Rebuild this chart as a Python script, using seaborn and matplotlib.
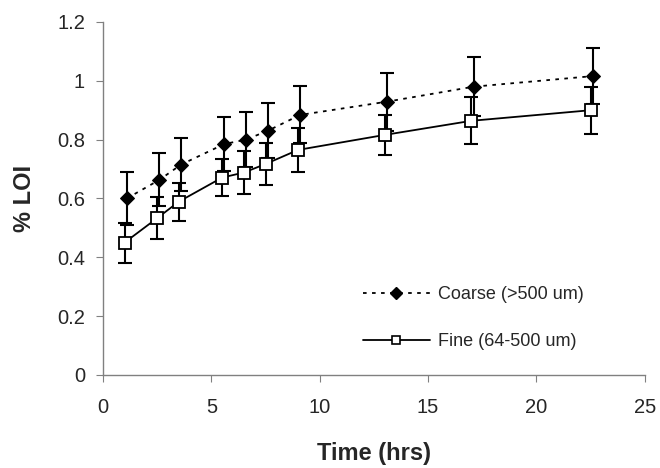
import matplotlib
matplotlib.use("Agg")
import matplotlib.pyplot as plt
import seaborn as sns
import pandas as pd
from matplotlib.lines import Line2D

# Data
time_fine = [1, 2.5, 3.5, 5.5, 6.5, 7.5, 9, 13, 17, 22.5]
time_coarse = [1.1, 2.6, 3.6, 5.6, 6.6, 7.6, 9.1, 13.1, 17.1, 22.6]
coarse = [0.60, 0.663, 0.715, 0.785, 0.80, 0.83, 0.884, 0.929, 0.98, 1.016]
coarse_err = [0.09, 0.09, 0.09, 0.093, 0.093, 0.093, 0.097, 0.098, 0.10, 0.095]
fine = [0.45, 0.533, 0.589, 0.671, 0.688, 0.717, 0.765, 0.816, 0.864, 0.90]
fine_err = [0.068, 0.072, 0.065, 0.062, 0.072, 0.073, 0.074, 0.068, 0.08, 0.08]
series_names = ["Coarse (>500 um)", "Fine (64-500 um)"]
x_ticks = [0, 5, 10, 15, 20, 25]
y_ticks = [0, 0.2, 0.4, 0.6, 0.8, 1.0, 1.2]
y_tick_labels = ["0", "0.2", "0.4", "0.6", "0.8", "1", "1.2"]

sns.set_style("white")
plt.rcParams["font.family"] = ["Liberation Sans", "DejaVu Sans"]

df = pd.DataFrame({
    "time": time_coarse + time_fine,
    "loi": coarse + fine,
    "series": [series_names[0]] * len(coarse) + [series_names[1]] * len(fine),
})

fig = plt.figure(figsize=(6.6, 4.68), dpi=100)
ax = fig.add_axes([0.156, 0.199, 0.821, 0.754])

# error bars
ax.errorbar(time_coarse, coarse, yerr=coarse_err, fmt="none", ecolor="black",
            elinewidth=1.5, capsize=5, capthick=1.5, zorder=2)
ax.errorbar(time_fine, fine, yerr=fine_err, fmt="none", ecolor="black",
            elinewidth=1.5, capsize=5, capthick=1.5, zorder=2)

sns.lineplot(data=df, x="time", y="loi", hue="series", style="series",
             palette=["black", "black"], markers={series_names[0]: "D", series_names[1]: "s"},
             dashes={series_names[0]: (2, 3), series_names[1]: ""},
             linewidth=1.3, markersize=8, ax=ax, legend=False, zorder=3)

for ln in ax.get_lines():
    if ln.get_marker() == "D":
        ln.set_markerfacecolor("black")
        ln.set_markeredgecolor("black")
        ln.set_markersize(7)
    elif ln.get_marker() == "s":
        ln.set_markerfacecolor("white")
        ln.set_markeredgecolor("black")
        ln.set_markeredgewidth(1.3)
        ln.set_markersize(9)

h1 = Line2D([], [], color="black", linestyle=(0, (2, 3)), linewidth=1.3,
            marker="D", markersize=6.5, markerfacecolor="black", markeredgecolor="black")
h2 = Line2D([], [], color="black", linestyle="-", linewidth=1.3,
            marker="s", markersize=5.5, markerfacecolor="white", markeredgecolor="black",
            markeredgewidth=1.2)
leg = ax.legend([h1, h2], series_names, loc="upper left", bbox_to_anchor=(0.48, 0.252),
                frameon=False, fontsize=13, handlelength=3.7, labelspacing=1.68,
                handletextpad=0.45, borderaxespad=0, borderpad=0)

ax.set_xlim(0, 25)
ax.set_ylim(0, 1.2)
ax.set_xticks(x_ticks)
ax.set_yticks(y_ticks)
ax.set_yticklabels(y_tick_labels)
ax.tick_params(axis="both", labelsize=14.5, direction="out", length=5, width=0.8,
               color="#808080", left=True, bottom=True)
ax.tick_params(axis="x", pad=12)
ax.tick_params(axis="y", pad=8)
for s in ["top", "right"]:
    ax.spines[s].set_visible(False)
for s in ["left", "bottom"]:
    ax.spines[s].set_color("#808080")
    ax.spines[s].set_linewidth(1.0)

ax.set_xlabel("Time (hrs)", fontsize=17, fontweight="bold", labelpad=18)
ax.set_ylabel("% LOI", fontsize=17, fontweight="bold", labelpad=15)

fig.savefig("out.png", dpi=100)
